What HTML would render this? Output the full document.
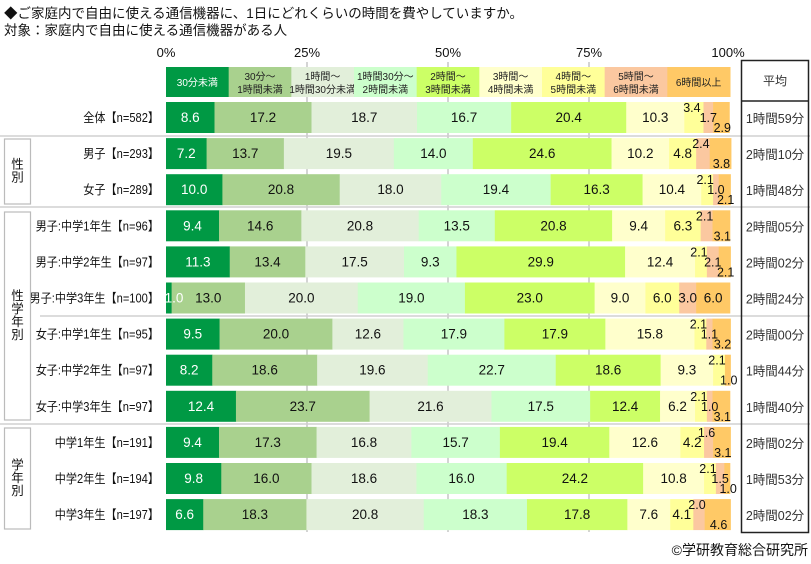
<!DOCTYPE html>
<html><head><meta charset="utf-8"><style>
body{margin:0;background:#fff;}
svg{display:block;font-family:"Liberation Sans","Noto Sans CJK JP",sans-serif;}
</style></head><body>
<svg id="s" width="811" height="564" xmlns="http://www.w3.org/2000/svg"></svg>
<script>
const s=document.getElementById('s');let h='',tx='';
const X0=166,W=564;
const col=['#009944','#a9d18e','#e2efda','#ccffcc','#ccff66','#ffffcc','#ffff99','#fbc8a0','#ffc966'];
h+='<text x="4" y="18" font-size="13.5" fill="#111">◆ご家庭内で自由に使える通信機器に、1日にどれくらいの時間を費やしていますか。</text>';
h+='<text x="4" y="35" font-size="13.5" fill="#111">対象：家庭内で自由に使える通信機器がある人</text>';
[[0,'0%'],[25,'25%'],[50,'50%'],[75,'75%'],[100,'100%']].forEach(([p,t])=>{const x=X0+W*p/100;h+=`<text x="${x+(p==100?-2:0)}" y="57" font-size="13" text-anchor="middle" fill="#111">${t}</text>`;if(p>0&&p<100)h+=`<line x1="${x}" y1="62" x2="${x}" y2="532" stroke="#aaa" stroke-width="1"/>`;});
[[0,136],[0,207],[40,316],[0,424]].forEach(([a,y])=>h+=`<line x1="${a}" y1="${y}" x2="810" y2="${y}" stroke="#d0d0d0" stroke-width="1.5"/>`);
const hd=[['30分未満'],['30分～','1時間未満'],['1時間～','1時間30分未満'],['1時間30分～','2時間未満'],['2時間～','3時間未満'],['3時間～','4時間未満'],['4時間～','5時間未満'],['5時間～','6時間未満'],['6時間以上']];
hd.forEach((t,i)=>{const x=X0+W*i/9,w=W/9;h+=`<rect x="${x}" y="67" width="${w+0.5}" height="30" fill="${col[i]}"/>`;const c=i==0?'#fff':'#222';if(t.length==1)h+=`<text x="${x+w/2}" y="86" font-size="10" text-anchor="middle" fill="${c}">${t[0]}</text>`;else{h+=`<text x="${x+w/2}" y="80" font-size="10" text-anchor="middle" fill="${c}">${t[0]}</text><text x="${x+w/2}" y="93" font-size="10" text-anchor="middle" fill="${c}">${t[1]}</text>`;}});
const rows=[
['全体【n=582】',[8.6,17.2,18.7,16.7,20.4,10.3,3.4,1.7,2.9],'tmb','1時間59分'],
['男子【n=293】',[7.2,13.7,19.5,14.0,24.6,10.2,4.8,2.4,3.8],'ntb','2時間10分'],
['女子【n=289】',[10.0,20.8,18.0,19.4,16.3,10.4,2.1,1.0,2.1],'tmb','1時間48分'],
['男子:中学1年生【n=96】',[9.4,14.6,20.8,13.5,20.8,9.4,6.3,2.1,3.1],'ntb','2時間05分'],
['男子:中学2年生【n=97】',[11.3,13.4,17.5,9.3,29.9,12.4,2.1,2.1,2.1],'tmb','2時間02分'],
['男子:中学3年生【n=100】',[1.0,13.0,20.0,19.0,23.0,9.0,6.0,3.0,6.0],'nnn','2時間24分'],
['女子:中学1年生【n=95】',[9.5,20.0,12.6,17.9,17.9,15.8,2.1,1.1,3.2],'tmb','2時間00分'],
['女子:中学2年生【n=97】',[8.2,18.6,19.6,22.7,18.6,9.3,2.1,0,1.0],'txb','1時間44分'],
['女子:中学3年生【n=97】',[12.4,23.7,21.6,17.5,12.4,6.2,2.1,1.0,3.1],'tmb','1時間40分'],
['中学1年生【n=191】',[9.4,17.3,16.8,15.7,19.4,12.6,4.2,1.6,3.1],'ntb','2時間02分'],
['中学2年生【n=194】',[9.8,16.0,18.6,16.0,24.2,10.8,2.1,1.5,1.0],'tmb','1時間53分'],
['中学3年生【n=197】',[6.6,18.3,20.8,18.3,17.8,7.6,4.1,2.0,4.6],'ntb','2時間02分']];
rows.forEach((r,i)=>{const y=102+36.1*i,H=31;let cum=0;
h+=`<text class="rl" x="159" y="${y+20}" font-size="12.5" text-anchor="end" fill="#111">${r[0]}</text>`;
h+=`<text x="775" y="${y+21}" font-size="12.5" text-anchor="middle" fill="#333">${r[3]}</text>`;
r[1].forEach((v,j)=>{const x=X0+W*cum/100,w=W*v/100;cum+=v;if(v>0)h+=`<rect x="${x}" y="${y}" width="${w+0.3}" height="${H}" fill="${col[j]}"/>`;
let m='n';if(j>=6)m=r[2][j-6];if(m=='x')return;let cx=x+w/2,ty=y+20,fs=13.5;
if(m=='t'){ty=y+10;fs=12.5;cx-=2;}else if(m=='m'){ty=y+20;fs=12.5;}else if(m=='b'){ty=y+30;fs=12.5;cx+=1;}
if(i==5&&j==0)cx=x+8;
tx+=`<text x="${cx}" y="${ty}" font-size="${fs}" text-anchor="middle" fill="${j==0?'#fff':'#111'}">${v.toFixed(1)}</text>`;});});
h+=tx;
[[139,204,['性','別']],[212,420,['性','学','年','別']],[428,529,['学','年','別']]].forEach(([a,b,t])=>{h+=`<rect x="4.5" y="${a}" width="26" height="${b-a}" fill="#fff" stroke="#bbb" stroke-width="1.2"/>`;const mid=(a+b)/2,st=mid-(t.length*13)/2+10;t.forEach((c,k)=>h+=`<text x="17.5" y="${st+k*13}" font-size="12.5" text-anchor="middle" fill="#111">${c}</text>`);});
h+='<rect x="741.5" y="60.5" width="67" height="472" fill="none" stroke="#222" stroke-width="1.5"/><line x1="741" y1="101" x2="809" y2="101" stroke="#222" stroke-width="1.5"/>';
h+='<text x="775" y="85" font-size="12" text-anchor="middle" fill="#333">平均</text>';
h+='<text x="808" y="555" font-size="14" text-anchor="end" fill="#111">©学研教育総合研究所</text>';
s.innerHTML=h;
document.querySelectorAll('.rl').forEach(e=>{const L=e.getComputedTextLength();e.setAttribute('textLength',(L*0.89).toFixed(1));e.setAttribute('lengthAdjust','spacingAndGlyphs');});
</script>
</body></html>
